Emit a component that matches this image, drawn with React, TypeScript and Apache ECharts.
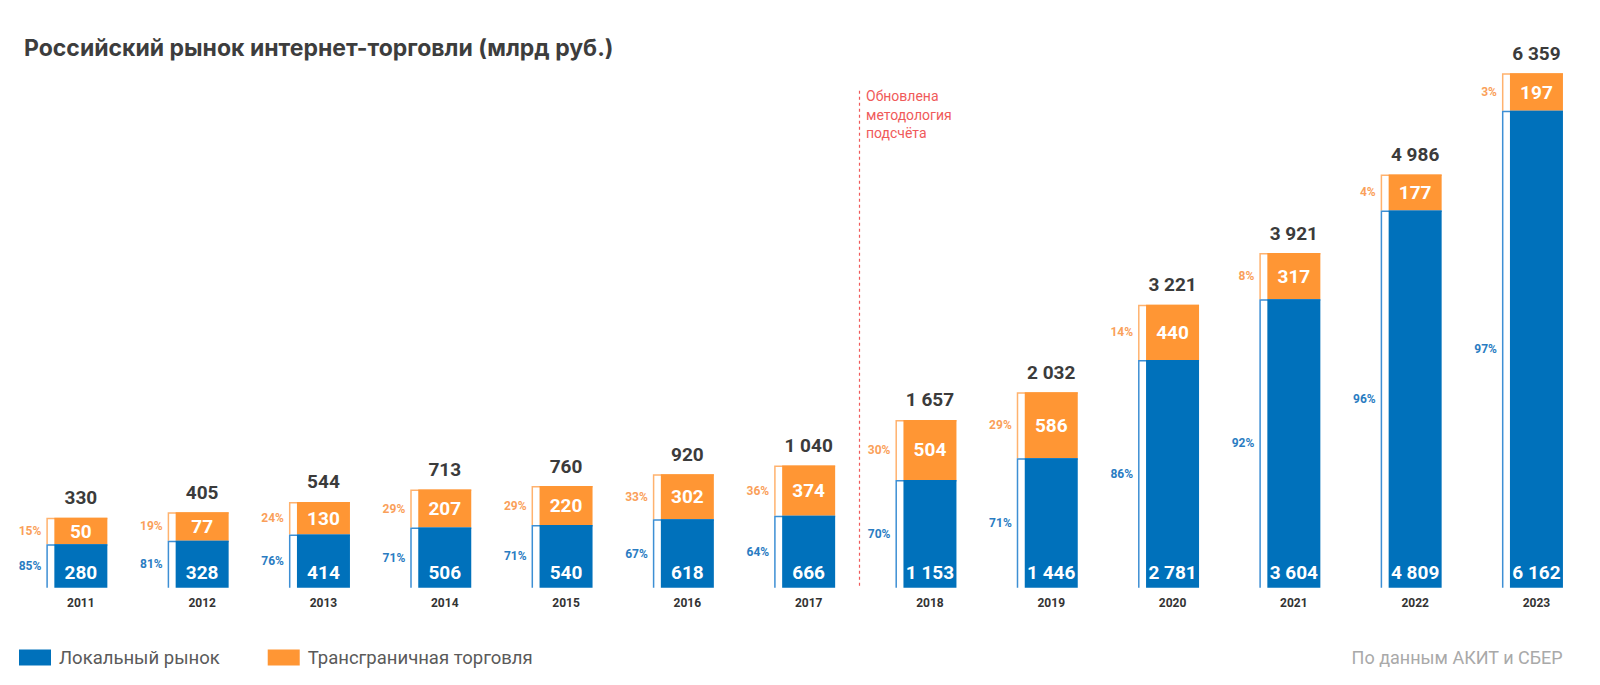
import React, { useEffect, useRef } from "react";
import * as echarts from "echarts";

// ---- data ----
const years = ["2011", "2012", "2013", "2014", "2015", "2016", "2017", "2018", "2019", "2020", "2021", "2022", "2023"];
const localMarket = [280, 328, 414, 506, 540, 618, 666, 1153, 1446, 2781, 3604, 4809, 6162];
const crossBorder = [50, 77, 130, 207, 220, 302, 374, 504, 586, 440, 317, 177, 197];
const totals = [330, 405, 544, 713, 760, 920, 1040, 1657, 2032, 3221, 3921, 4986, 6359];
const localShare = [85, 81, 76, 71, 71, 67, 64, 70, 71, 86, 92, 96, 97];
const crossShare = [15, 19, 24, 29, 29, 33, 36, 30, 29, 14, 8, 4, 3];
const methodologyChangeIndex = 7;
const methodologyNote = ["Обновлена", "методология", "подсчёта"];
const seriesNames = ["Локальный рынок", "Трансграничная торговля"];
const titleText = "Российский рынок интернет-торговли (млрд руб.)";
const sourceText = "По данным АКИТ и СБЕР";

// ---- styles ----
const BLUE = "#0071bb";
const BLUE_LINE = "#3d8fd4";
const BLUE_PCT = "#2a7cc2";
const ORANGE = "#ff9634";
const ORANGE_LINE = "#ffb26e";
const ORANGE_PCT = "#fa9f5a";
const RED = "#f05a5a";
const BAR_W = 53;
const OUT = 8;
const PAD = 22.8;
const FONT = "Roboto";

const fmt = (v: number) => String(v).replace(/\B(?=(\d{3})+(?!\d))/g, " ");

export default function App() {
  const ref = useRef<HTMLDivElement>(null);
  useEffect(() => {
    if (!ref.current) return;
    const chart = echarts.init(ref.current, undefined, { renderer: "svg" });

    const outline = (x0: number, bottom: number, top: number, right: number, color: string) => ({
      type: "polyline",
      shape: { points: [[x0 + 0.75, bottom], [x0 + 0.75, top + 0.75], [right, top + 0.75]] },
      style: { fill: "none", stroke: color, lineWidth: 1.5 },
    });

    const localRender = (params: any, api: any) => {
      const i = api.value(0);
      const v = api.value(1);
      const pct = api.value(2);
      const [cx, base] = api.coord([i, 0]);
      const h = api.size([0, v])[1] + PAD;
      const top = base - h;
      const left = cx - BAR_W / 2;
      return {
        type: "group",
        children: [
          outline(left - OUT, base, top, left + BAR_W, BLUE_LINE),
          { type: "rect", shape: { x: left, y: top, width: BAR_W, height: h }, style: { fill: BLUE } },
          {
            type: "text",
            style: { text: fmt(v), x: cx, y: base - 15, align: "center", verticalAlign: "middle", fill: "#fff", font: `bold 19px ${FONT}` },
          },
          {
            type: "text",
            style: { text: pct + "%", x: left - OUT - 5, y: top + h / 2, align: "right", verticalAlign: "middle", fill: BLUE_PCT, font: `bold 12px ${FONT}` },
          },
        ],
      };
    };

    const crossRender = (params: any, api: any) => {
      const i = api.value(0);
      const v = api.value(1);
      const pct = api.value(2);
      const local = api.value(3);
      const total = api.value(4);
      const [cx, zero] = api.coord([i, 0]);
      const base = zero - (api.size([0, local])[1] + PAD);
      const h = api.size([0, v])[1] + PAD;
      const top = base - h;
      const left = cx - BAR_W / 2;
      return {
        type: "group",
        children: [
          outline(left - OUT, base, top, left + BAR_W, ORANGE_LINE),
          { type: "rect", shape: { x: left, y: top, width: BAR_W, height: h }, style: { fill: ORANGE } },
          {
            type: "text",
            style: { text: fmt(v), x: cx, y: top + h / 2, align: "center", verticalAlign: "middle", fill: "#fff", font: `bold 19px ${FONT}` },
          },
          {
            type: "text",
            style: { text: pct + "%", x: left - OUT - 5, y: top + h / 2, align: "right", verticalAlign: "middle", fill: ORANGE_PCT, font: `bold 12px ${FONT}` },
          },
          {
            type: "text",
            style: { text: fmt(total), x: cx, y: top - 20, align: "center", verticalAlign: "middle", fill: "#3b3b3b", font: `bold 19px ${FONT}` },
          },
        ],
      };
    };

    const noteRender = (params: any, api: any) => {
      const i = api.value(0);
      const [cx, base] = api.coord([i, 0]);
      const band = api.size([1, 0])[0];
      const x = Math.round(cx - band * 0.583) + 0.5;
      const cs = params.coordSys;
      const top = cs.y + 19;
      return {
        type: "group",
        children: [
          {
            type: "line",
            shape: { x1: x, y1: top, x2: x, y2: base },
            style: { stroke: RED, lineWidth: 1.2, lineDash: [3, 3] },
          },
          ...methodologyNote.map((t, k) => ({
            type: "text",
            style: { text: t, x: x + 6.5, y: top + 5.5 + k * 18.3, align: "left", verticalAlign: "middle", fill: RED, font: `14px ${FONT}` },
          })),
        ],
      };
    };

    chart.setOption({
      animation: false,
      title: {
        text: titleText,
        left: 19,
        top: 31,
        textStyle: { fontFamily: "Inter", fontWeight: "bold", fontSize: 23, color: "#3d3d3d" },
      },
      legend: {
        data: seriesNames,
        left: 14,
        top: 643,
        icon: "rect",
        itemWidth: 32,
        itemHeight: 16,
        itemGap: 48,
        textStyle: { fontFamily: FONT, fontSize: 18.5, color: "#5a5a5a", padding: [0, 0, 0, 3] },
        selectedMode: false,
      },
      graphic: [
        {
          type: "text",
          right: 37,
          top: 648,
          style: { text: sourceText, fill: "#a9a9a9", font: `18px ${FONT}` },
        },
      ],
      grid: { left: 20.2, right: 2.9, top: 71.7, bottom: 97.3, containLabel: false },
      xAxis: {
        type: "category",
        data: years,
        axisLine: { show: false },
        axisTick: { show: false },
        splitLine: { show: false },
        axisLabel: { color: "#333", fontWeight: "bold", fontSize: 12, fontFamily: FONT, margin: 9 },
      },
      yAxis: { type: "value", min: 0, max: 7000, show: false },
      series: [
        {
          name: seriesNames[0],
          type: "custom",
          itemStyle: { color: BLUE },
          encode: { x: 0, y: 1 },
          data: years.map((_, i) => [i, localMarket[i], localShare[i]]),
          renderItem: localRender,
          z: 3,
        },
        {
          name: seriesNames[1],
          type: "custom",
          itemStyle: { color: ORANGE },
          encode: { x: 0, y: 1 },
          data: years.map((_, i) => [i, crossBorder[i], crossShare[i], localMarket[i], totals[i]]),
          renderItem: crossRender,
          z: 2,
        },
        {
          name: "note",
          type: "custom",
          encode: { x: 0, y: 1 },
          data: [[methodologyChangeIndex, 0]],
          renderItem: noteRender,
          z: 1,
          silent: true,
        },
      ],
    });
    return () => chart.dispose();
  }, []);
  return <div ref={ref} style={{ position: "fixed", left: 0, top: 0, width: 1600, height: 685, background: "#fff" }} />;
}
